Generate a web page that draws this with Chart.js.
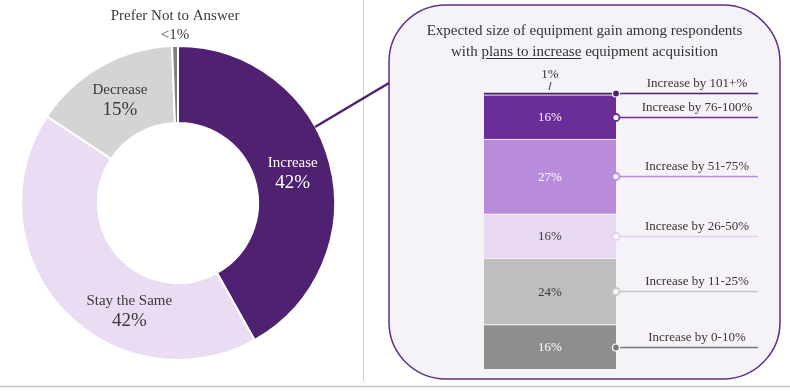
<!DOCTYPE html>
<html><head><meta charset="utf-8">
<script src="https://cdn.jsdelivr.net/npm/chart.js@4.4.1/dist/chart.umd.min.js"></script>
<style>
html,body{margin:0;padding:0;background:#fff;}
#wrap{position:relative;width:790px;height:391px;overflow:hidden;font-family:"Liberation Serif",serif;}
svg{position:absolute;left:0;top:0;}
#c1{position:absolute;left:0;top:0;}
#c2{position:absolute;left:389px;top:5px;}
#title{position:absolute;left:389px;top:20px;width:391px;text-align:center;font-size:15px;line-height:21px;color:#333;}
#title u{text-decoration:underline;text-underline-offset:2px;}
</style></head>
<body><div id="wrap">
<svg width="790" height="391">
  <line x1="363.5" y1="0" x2="363.5" y2="381" stroke="#d0d0d0" stroke-width="1"/>
  <line x1="0" y1="386.5" x2="790" y2="386.5" stroke="#c6c6c6" stroke-width="1.5"/>
  <rect x="389" y="5" width="391" height="374" rx="57" ry="57" fill="#f6f3f8" stroke="#5e2d87" stroke-width="1.5"/>
</svg>
<canvas id="c1" width="356" height="391"></canvas>
<canvas id="c2" width="391" height="374"></canvas>
<svg width="790" height="391" style="pointer-events:none">
  <line x1="315" y1="127" x2="389" y2="83" stroke="#4f2170" stroke-width="2.5"/>
</svg>
<div id="title">Expected size of equipment gain among respondents<br>with <u>plans to increase</u> equipment acquisition</div>
</div>
<script>
// ---- data ----
const donutLabels = ['Increase', 'Stay the Same', 'Decrease', 'Prefer Not to Answer'];
const donutValues = [41.9, 42.4, 15.1, 0.6];
const donutValueText = ['42%', '42%', '15%', '<1%'];

const gainLabels = ['Increase by 0-10%', 'Increase by 11-25%', 'Increase by 26-50%', 'Increase by 51-75%', 'Increase by 76-100%', 'Increase by 101+%'];
const gainValues = [16, 24, 16, 27, 16, 1];

// ---- styles ----
const donutColors = ['#4f2170', '#eadcf3', '#d4d4d4', '#808080'];
const donutTextColors = ['#ffffff', '#3a3a3a', '#3a3a3a', '#3a3a3a'];
const donutLabelFrac = [0.5, 0.35, 0.5, 0.5];

const gainColors = ['#8e8e8e', '#bebebe', '#e9d9f3', '#b98cdb', '#6b2e99', '#3f1c60'];
const gainLineColors = ['#7a7a7a', '#c8c8c8', '#e2d0ef', '#b98cdb', '#6b2e99', '#4b2170'];
const gainTextColors = ['#ffffff', '#3a3a3a', '#3a3a3a', '#ffffff', '#ffffff', '#333333'];
const gainDotFilled = [true, false, false, false, false, true];

Chart.defaults.font.family = '"Liberation Serif", serif';

const donutLabelPlugin = {
  id: 'donutLabels',
  afterDatasetsDraw(chart) {
    const ctx = chart.ctx;
    const meta = chart.getDatasetMeta(0);
    ctx.save();
    ctx.textAlign = 'center';
    ctx.textBaseline = 'middle';
    meta.data.forEach((arc, i) => {
      const p = arc.getProps(['x', 'y', 'startAngle', 'endAngle', 'innerRadius', 'outerRadius'], true);
      if (i === 3) {
        const a = (p.startAngle + p.endAngle) / 2;
        const x = p.x + Math.cos(a) * p.outerRadius;
        const topY = p.y - p.outerRadius;
        ctx.fillStyle = '#3a3a3a';
        ctx.font = '15px "Liberation Serif", serif';
        ctx.fillText(donutLabels[i], x, topY - 30);
        ctx.fillText(donutValueText[i], x, topY - 11);
        return;
      }
      const a = p.startAngle + donutLabelFrac[i] * (p.endAngle - p.startAngle);
      const r = (p.innerRadius + p.outerRadius) / 2;
      const cx = p.x + Math.cos(a) * r;
      const cy = p.y + Math.sin(a) * r;
      ctx.fillStyle = donutTextColors[i];
      ctx.font = '15px "Liberation Serif", serif';
      ctx.fillText(donutLabels[i], cx, cy - 10);
      ctx.font = '19px "Liberation Serif", serif';
      ctx.fillText(donutValueText[i], cx, cy + 10);
    });
    ctx.restore();
  }
};

new Chart(document.getElementById('c1'), {
  type: 'doughnut',
  data: {
    labels: donutLabels,
    datasets: [{
      data: donutValues,
      backgroundColor: donutColors,
      borderColor: '#ffffff',
      borderWidth: 2,
      hoverOffset: 0
    }]
  },
  options: {
    responsive: false,
    animation: false,
    events: [],
    cutout: '51%',
    rotation: 0,
    layout: { padding: { top: 45, bottom: 30, left: 20, right: 20 } },
    plugins: { legend: { display: false }, tooltip: { enabled: false } }
  },
  plugins: [donutLabelPlugin]
});

const LINE_END_X = 369;   // canvas coords
const LABEL_X = 308;

const barLabelPlugin = {
  id: 'barLabels',
  afterDatasetsDraw(chart) {
    const ctx = chart.ctx;
    ctx.save();
    ctx.textAlign = 'center';
    ctx.textBaseline = 'middle';
    chart.data.datasets.forEach((ds, i) => {
      const el = chart.getDatasetMeta(i).data[0];
      const p = el.getProps(['x', 'y', 'base', 'width'], true);
      const top = Math.min(p.y, p.base), bot = Math.max(p.y, p.base);
      const cy = (top + bot) / 2;
      const right = p.x + p.width / 2;
      const txt = gainValues[i] + '%';
      ctx.font = '13px "Liberation Serif", serif';
      if (gainValues[i] < 3) {
        ctx.fillStyle = gainTextColors[i];
        ctx.fillText(txt, p.x, top - 17);
        ctx.strokeStyle = '#333';
        ctx.lineWidth = 1;
        ctx.beginPath();
        ctx.moveTo(p.x + 1, top - 10);
        ctx.lineTo(p.x - 1, top - 2);
        ctx.stroke();
      } else {
        ctx.fillStyle = gainTextColors[i];
        ctx.fillText(txt, p.x, cy + 1);
      }
      const ly = Math.round(cy) + 0.5;
      // leader line
      ctx.strokeStyle = gainLineColors[i];
      ctx.lineWidth = 1.5;
      ctx.beginPath();
      ctx.moveTo(right, ly);
      ctx.lineTo(LINE_END_X, ly);
      ctx.stroke();
      // dot
      ctx.beginPath();
      ctx.arc(right, ly, 3.5, 0, Math.PI * 2);
      if (gainDotFilled[i]) {
        ctx.fillStyle = gainLineColors[i];
        ctx.fill();
        ctx.strokeStyle = '#ffffff';
        ctx.lineWidth = 1.2;
        ctx.stroke();
      } else {
        ctx.fillStyle = '#ffffff';
        ctx.fill();
        ctx.strokeStyle = gainLineColors[i];
        ctx.lineWidth = 1.8;
        ctx.stroke();
      }
      // category label
      ctx.fillStyle = '#3a3330';
      ctx.font = '13px "Liberation Serif", serif';
      ctx.fillText(gainLabels[i], LABEL_X, ly - 10);
    });
    ctx.restore();
  }
};

new Chart(document.getElementById('c2'), {
  type: 'bar',
  data: {
    labels: [''],
    datasets: gainLabels.map((lab, i) => ({
      label: lab,
      data: [gainValues[i]],
      backgroundColor: gainColors[i],
      borderColor: '#ffffff',
      borderWidth: { top: 1, bottom: 0, left: 0, right: 0 },
      borderSkipped: false,
      barPercentage: 1,
      categoryPercentage: 1
    }))
  },
  options: {
    responsive: false,
    animation: false,
    events: [],
    layout: { padding: { top: 87, bottom: 10, left: 95, right: 164 } },
    scales: {
      x: { display: false, stacked: true },
      y: { display: false, stacked: true, min: 0, max: 100 }
    },
    plugins: { legend: { display: false }, tooltip: { enabled: false } }
  },
  plugins: [barLabelPlugin]
});
</script>
</body></html>
